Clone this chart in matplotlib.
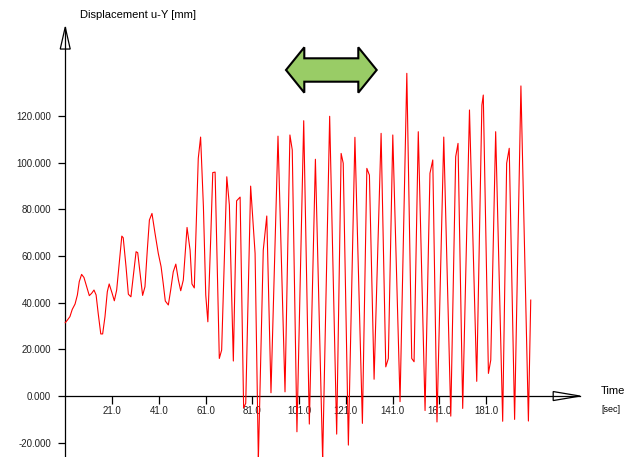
import matplotlib
matplotlib.use('Agg')
import matplotlib.pyplot as plt
from matplotlib.patches import Polygon

# ---- data ----
time_s = [1.0, 1.9, 3.0, 4.0, 5.2, 6.2, 7.0, 8.0, 9.0, 10.2, 11.3, 12.3, 13.3, 14.2, 15.1,
          16.2, 17.0, 18.0, 19.0, 19.8, 21.0, 22.0, 23.0, 24.1, 25.2, 25.8, 27.0, 28.0, 29.1,
          30.1, 31.3, 32.0, 33.0, 34.1, 35.1, 36.1, 37.0, 38.1, 39.4, 40.8, 42.0, 42.9, 43.8,
          45.1, 46.1, 47.2, 48.3, 49.4, 50.4, 51.5, 52.4, 53.1, 54.4, 55.2, 56.2, 57.2, 57.9,
          58.9, 60.1, 61.1, 62.0, 63.2, 64.1, 65.1, 66.9, 67.9, 70.1, 71.2, 72.9, 74.3, 75.8,
          77.3, 78.2, 80.3, 82.2, 83.6, 85.7, 87.2, 89.0, 92.0, 95.0, 97.1, 98.1, 100.1, 103.0,
          105.4, 108.0, 111.1, 114.1, 117.1, 119.0, 119.9, 122.1, 124.9, 128.1, 130.0, 131.1,
          133.1, 136.1, 138.1, 139.2, 141.1, 144.2, 147.1, 149.2, 150.2, 152.0, 154.9, 157.0,
          158.2, 160.0, 162.9, 165.9, 168.0, 169.0, 171.0, 173.9, 177.0, 179.2, 179.8, 182.0,
          183.0, 185.1, 188.1, 189.8, 190.9, 193.2, 195.9, 199.1, 200.1]
disp_mm = [31.4, 32.5, 34.0, 37.1, 39.4, 43.3, 49.0, 52.1, 50.8, 46.8, 43.0, 44.0, 45.4, 43.3, 35.4,
           26.6, 26.6, 34.0, 44.7, 48.0, 44.2, 40.8, 45.4, 56.8, 68.5, 67.8, 55.4, 43.6, 42.5,
           51.1, 61.8, 61.4, 52.5, 43.1, 46.8, 62.5, 75.4, 78.2, 69.7, 61.1, 55.4, 48.3, 40.7,
           39.0, 45.4, 53.2, 56.5, 49.7, 45.1, 49.7, 62.5, 72.2, 62.5, 48.0, 46.3, 78.2, 101.8,
           110.9, 81.1, 43.3, 31.8, 66.8, 95.7, 95.9, 16.1, 19.7, 93.9, 81.8, 15.0, 83.6, 85.2,
           -5.1, -3.1, 89.9, 61.1, -27.4, 62.5, 77.1, 1.4, 111.3, 1.8, 111.8, 105.4, -15.3, 117.9,
           -12.0, 101.4, -27.4, 119.8, -16.3, 103.9, 99.7, -21.0, 110.8, -11.7, 97.5, 94.6,
           7.2, 112.5, 12.5, 16.1, 111.8, -2.4, 138.2, 16.1, 14.7, 113.2, -6.2, 95.4,
           101.1, -11.1, 110.9, -8.6, 102.5, 108.2, -5.3, 122.5, 6.3, 124.6, 128.9, 9.7,
           15.4, 113.2, -10.8, 99.7, 106.1, -10.0, 132.8, -10.7, 41.1]

x_ticks = [21, 41, 61, 81, 101, 121, 141, 161, 181]
x_tick_labels = ['21.0', '41.0', '61.0', '81.0', '101.0', '121.0', '141.0', '161.0', '181.0']
y_ticks = [-20, 0, 20, 40, 60, 80, 100, 120]
y_tick_labels = ['-20.000', '0.000', '20.000', '40.000', '60.000', '80.000', '100.000', '120.000']

y_title = 'Displacement u-Y [mm]'
x_title = 'Time'
x_unit = '[sec]'

plt.rcParams['font.family'] = ['Liberation Sans', 'DejaVu Sans']

W, H = 628, 457
fig = plt.figure(figsize=(W / 100, H / 100), dpi=100)
ax = fig.add_axes([0, 0, 1, 1])
ax.set_xlim(-26.9, 241.7)
ax.set_ylim(-26.1, 169.6)
ax.patch.set_visible(False)

ax.plot(time_s, disp_mm, color='#ff0000', lw=0.8, zorder=3)

for s in ['top', 'right']:
    ax.spines[s].set_visible(False)
for s in ['left', 'bottom']:
    ax.spines[s].set_linewidth(0.9)
    ax.spines[s].set_color('black')
ax.spines['left'].set_position(('data', 1.0))
ax.spines['bottom'].set_position(('data', 0.0))
ax.spines['left'].set_bounds(-26.1, 158.0)
ax.spines['bottom'].set_bounds(1.0, 221.2)

ax.set_xticks(x_ticks, x_tick_labels)
ax.set_yticks(y_ticks, y_tick_labels)
ax.tick_params(axis='x', direction='out', length=5.8, width=0.9, pad=1.5,
               labelsize=7, labelcolor='#222222')
ax.tick_params(axis='y', direction='out', length=5.2, width=0.9, pad=5,
               labelsize=7, labelcolor='#222222')

# open arrowheads at axis ends
ax.add_patch(Polygon([(1 - 2.14, 148.6), (1, 158.0), (1 + 2.14, 148.6)], closed=True,
                     facecolor='none', edgecolor='black', lw=0.9, clip_on=False, zorder=4))
ax.add_patch(Polygon([(209.7, 1.93), (221.2, 0), (209.7, -1.93)], closed=True,
                     facecolor='none', edgecolor='black', lw=0.9, clip_on=False, zorder=4))

# titles
fig.text(80 / W, 1 - 15 / H, y_title, ha='left', va='center', fontsize=8)
fig.text(601 / W, 1 - 391 / H, x_title, ha='left', va='center', fontsize=8)
fig.text(601 / W, 1 - 410 / H, x_unit, ha='left', va='center', fontsize=6.5)

# green double arrow decoration
arrow_px = [(286, 70), (304.3, 47.3), (304.3, 58.3), (358.3, 58.3), (358.3, 47.3),
            (376.7, 70), (358.3, 92.7), (358.3, 81.7), (304.3, 81.7), (304.3, 92.7)]
fig.patches.append(Polygon([(x / W, 1 - y / H) for x, y in arrow_px], closed=True,
                           transform=fig.transFigure, facecolor='#99cc66',
                           edgecolor='black', lw=1.5, joinstyle='miter'))

fig.savefig('out.png', dpi=100)
